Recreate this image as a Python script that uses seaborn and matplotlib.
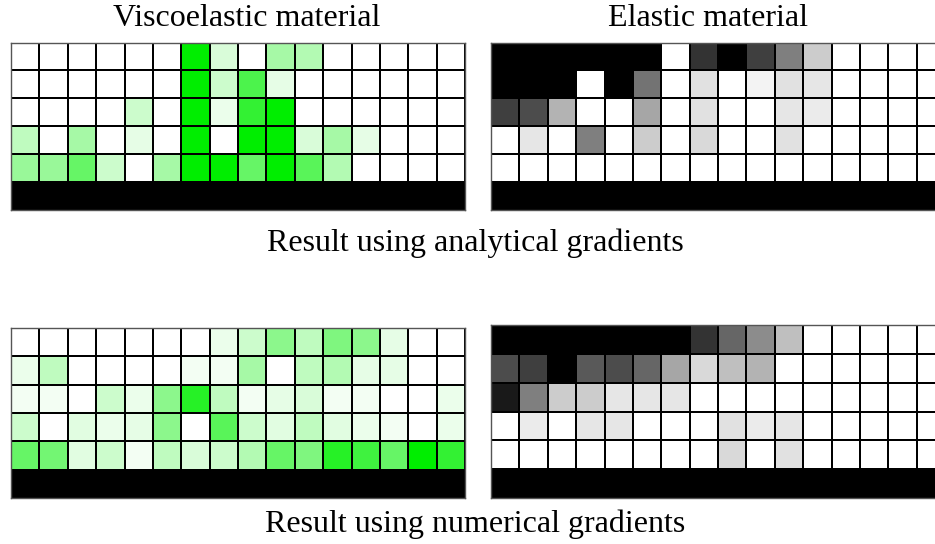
import numpy as np
import pandas as pd
import matplotlib
matplotlib.use("Agg")
import matplotlib.pyplot as plt
from matplotlib.colors import LinearSegmentedColormap
import seaborn as sns

# Material density per element (rows top -> bottom, 16 columns); 1 = full material
visco_analytical = [
    [0, 0, 0, 0, 0, 0, 1, 0.15, 0, 0.35, 0.30, 0, 0, 0, 0, 0],
    [0, 0, 0, 0, 0, 0, 1, 0.20, 0.70, 0.10, 0, 0, 0, 0, 0, 0],
    [0, 0, 0, 0, 0.20, 0, 1, 0.08, 0.80, 1, 0, 0, 0, 0, 0, 0],
    [0.25, 0, 0.35, 0, 0.10, 0, 1, 0, 1, 1, 0.15, 0.35, 0.10, 0, 0, 0],
    [0.40, 0.40, 0.60, 0.20, 0, 0.35, 1, 1, 0.60, 1, 0.65, 0.30, 0, 0, 0, 0],
]
elastic_analytical = [
    [1, 1, 1, 1, 1, 1, 0, 0.80, 1, 0.75, 0.50, 0.20, 0, 0, 0, 0],
    [1, 1, 1, 0, 1, 0.55, 0, 0.12, 0, 0.05, 0.12, 0.10, 0, 0, 0, 0],
    [0.75, 0.70, 0.30, 0, 0, 0.35, 0, 0.12, 0, 0, 0.10, 0.08, 0, 0, 0, 0],
    [0, 0.10, 0, 0.50, 0, 0.20, 0, 0.15, 0, 0, 0.12, 0, 0, 0, 0, 0],
    [0, 0, 0, 0, 0, 0, 0, 0, 0, 0, 0, 0, 0, 0, 0, 0],
]
visco_numerical = [
    [0, 0, 0, 0, 0, 0, 0, 0.08, 0.20, 0.45, 0.25, 0.50, 0.45, 0.10, 0, 0],
    [0.08, 0.25, 0, 0, 0, 0, 0.05, 0.05, 0.35, 0, 0.25, 0.30, 0.10, 0.10, 0, 0],
    [0.05, 0.05, 0, 0.20, 0.08, 0.45, 0.85, 0.25, 0.05, 0.10, 0.15, 0.05, 0.05, 0, 0, 0.08],
    [0.20, 0, 0.12, 0.08, 0.10, 0.45, 0, 0.65, 0.20, 0.12, 0.25, 0.12, 0.08, 0.05, 0, 0.08],
    [0.60, 0.55, 0.12, 0.20, 0.05, 0.25, 0.15, 0.20, 0.30, 0.60, 0.50, 0.85, 0.75, 0.60, 1, 0.80],
]
elastic_numerical = [
    [1, 1, 1, 1, 1, 1, 1, 0.80, 0.60, 0.45, 0.25, 0, 0, 0, 0, 0],
    [0.70, 0.75, 1, 0.65, 0.70, 0.60, 0.35, 0.15, 0.25, 0.30, 0, 0, 0, 0, 0, 0],
    [0.90, 0.50, 0.20, 0.20, 0.10, 0.10, 0.10, 0, 0, 0, 0, 0, 0, 0, 0, 0],
    [0, 0.08, 0, 0.10, 0.10, 0, 0, 0, 0.12, 0.08, 0.10, 0, 0, 0, 0, 0],
    [0, 0, 0, 0, 0, 0, 0, 0, 0.15, 0, 0.12, 0, 0, 0, 0, 0],
]
# fixed support layer under the design domain
SUPPORT = 2.0

panel_titles = ["Viscoelastic material", "Elastic material"]
row_captions = ["Result using analytical gradients", "Result using numerical gradients"]

green_cmap = LinearSegmentedColormap.from_list("visco", ["#ffffff", "#00ee00"])
green_cmap.set_over("black")
gray_cmap = LinearSegmentedColormap.from_list("elastic", ["#ffffff", "#000000"])
gray_cmap.set_over("black")

W, H = 935, 544
fig = plt.figure(figsize=(W / 100, H / 100), dpi=100)
plt.rcParams["font.family"] = ["Liberation Serif", "DejaVu Serif"]


def frac(x0, y0, x1, y1):
    return [x0 / W, 1 - y1 / H, (x1 - x0) / W, (y1 - y0) / H]


panels = [
    (visco_analytical, green_cmap, frac(11, 42.5, 465, 210)),
    (elastic_analytical, gray_cmap, frac(491, 42.5, 945, 210)),
    (visco_numerical, green_cmap, frac(11, 328, 465, 498)),
    (elastic_numerical, gray_cmap, frac(491, 325, 945, 498)),
]

for dens, cmap, rect in panels:
    ax = fig.add_axes(rect)
    grid = np.vstack([np.array(dens, dtype=float), np.full((1, 16), SUPPORT)])
    df = pd.DataFrame(grid)
    sns.heatmap(df, ax=ax, cmap=cmap, vmin=0, vmax=1, cbar=False,
                linewidths=1.2, linecolor="black", square=False,
                xticklabels=False, yticklabels=False)
    ax.set_xlabel("")
    ax.set_ylabel("")
    for s in ax.spines.values():
        s.set_visible(True)
        s.set_color("#555555")
        s.set_linewidth(1.0)

fs = 23
fig.text(247 / W, 1 - 18 / H, panel_titles[0], ha="center", va="center", fontsize=fs)
fig.text(708 / W, 1 - 18 / H, panel_titles[1], ha="center", va="center", fontsize=fs)
fig.text(475 / W, 1 - 243 / H, row_captions[0], ha="center", va="center", fontsize=fs)
fig.text(475 / W, 1 - 524 / H, row_captions[1], ha="center", va="center", fontsize=fs)

fig.savefig("out.png", dpi=100)
